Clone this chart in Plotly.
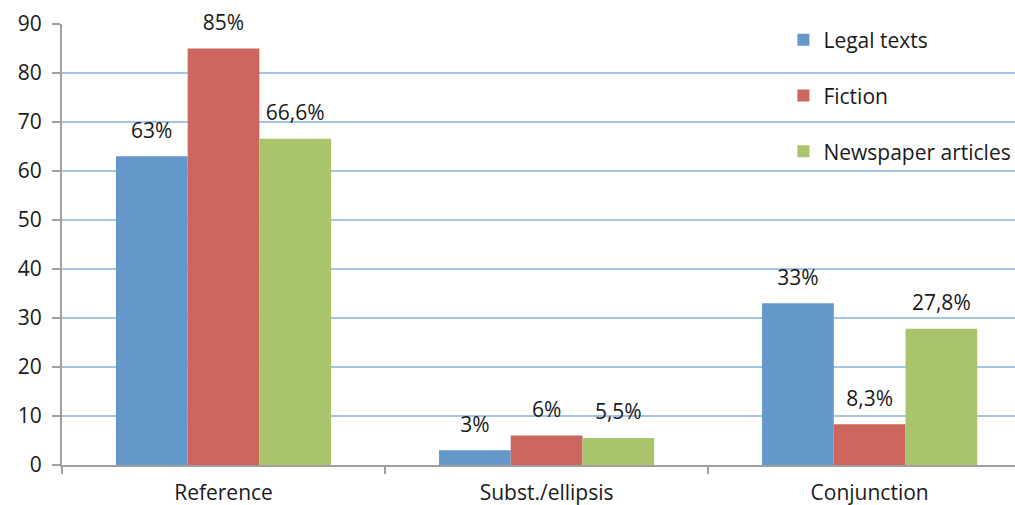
import plotly.graph_objects as go

categories = ["Reference", "Subst./ellipsis", "Conjunction"]
series_names = ["Legal texts", "Fiction", "Newspaper articles"]
legal = [63, 3, 33]
fiction = [85, 6, 8.3]
news = [66.6, 5.5, 27.8]
legal_labels = ["63%", "3%", "33%"]
fiction_labels = ["85%", "6%", "8,3%"]
news_labels = ["66,6%", "5,5%", "27,8%"]
y_ticks = [0, 10, 20, 30, 40, 50, 60, 70, 80, 90]

colors = ["#6497CA", "#CD665E", "#AAC46C"]
FONT = "Open Sans"
TXT = "#1a1a1a"
FS = 21

fig = go.Figure()
series = [legal, fiction, news]
labels = [legal_labels, fiction_labels, news_labels]
for i, (name, vals, labs) in enumerate(zip(series_names, series, labels)):
    fig.add_trace(go.Bar(
        x=categories, y=vals, name=name, marker_color=colors[i],
        marker_line_width=0, offsetgroup=str(i), alignmentgroup="a",
        legendgroup=name,
    ))
for i, (name, vals, labs) in enumerate(zip(series_names, series, labels)):
    fig.add_trace(go.Scatter(
        x=categories, y=vals, text=labs, mode="text+markers",
        marker=dict(size=20, opacity=0), textposition="top center",
        textfont=dict(family=FONT, size=FS, color=TXT),
        offsetgroup=str(i), alignmentgroup="a", showlegend=False,
        hoverinfo="skip", cliponaxis=False,
    ))

fig.update_layout(
    width=1015, height=505,
    margin=dict(l=62, r=0, t=24, b=40, autoexpand=False),
    paper_bgcolor="white", plot_bgcolor="white",
    barmode="group", bargap=0.334, bargroupgap=0,
    scattermode="group", scattergap=0.334,
    font=dict(family=FONT, size=FS, color=TXT),
    showlegend=True,
    legend=dict(
        x=0.757, y=1.01, xanchor="left", yanchor="top",
        bgcolor="rgba(0,0,0,0)", font=dict(family=FONT, size=FS, color=TXT),
        traceorder="grouped", tracegroupgap=25.5,
    ),
    xaxis=dict(
        type="category", range=[-0.5, 2.45],
        showline=True, linecolor="#A0A0A0", linewidth=2,
        ticks="outside", tickson="boundaries", ticklen=7, tickcolor="#A0A0A0", tickwidth=2,
        showgrid=False, ticklabelstandoff=8,
        tickfont=dict(family=FONT, size=FS, color=TXT),
    ),
    yaxis=dict(
        range=[0, 90], tickvals=y_ticks,
        showline=True, linecolor="#A0A0A0", linewidth=2,
        ticks="outside", ticklen=8, tickcolor="#A0A0A0", tickwidth=2,
        showgrid=True, gridcolor="#A4C5E8", gridwidth=1.5,
        zeroline=False, ticklabelstandoff=6,
        tickfont=dict(family=FONT, size=FS, color=TXT),
    ),
)

fig.write_html(
    "out.html",
    config={"displayModeBar": False},
    post_script="document.body.style.margin='0';document.body.style.overflow='hidden';",
)
